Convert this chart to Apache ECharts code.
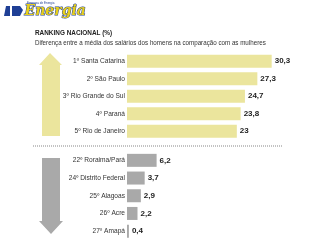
<!DOCTYPE html>
<html><head><meta charset="utf-8">
<script src="https://cdn.jsdelivr.net/npm/echarts@6/dist/echarts.min.js"></script>
<style>html,body{margin:0;padding:0;background:#fff}#c{width:320px;height:240px}</style>
</head><body><div id="c"></div>
<script>
var topCategories = ['1º Santa Catarina','2º São Paulo','3º Rio Grande do Sul','4º Paraná','5º Rio de Janeiro'];
var topValues = [30.3, 27.3, 24.7, 23.8, 23];
var bottomCategories = ['22º Roraima/Pará','24º Distrito Federal','25º Alagoas','26º Acre','27º Amapá'];
var bottomValues = [6.2, 3.7, 2.9, 2.2, 0.4];
var titleText = 'RANKING NACIONAL (%)';
var subtitleText = 'Diferença entre a média dos salários dos homens na comparação com as mulheres';

var NARROW = '"Liberation Sans Narrow","Arial Narrow","Liberation Sans",sans-serif';
var chart = echarts.init(document.getElementById('c'), null, {renderer:'canvas'});
function fmt(p){ return String(p.value).replace('.', ','); }
var catLabel = {color:'#333', fontSize:6.6, fontFamily:NARROW, margin:2};
var valLabel = {show:true, position:'right', distance:3, formatter:fmt, fontSize:8, fontWeight:'bold', color:'#222', fontFamily:NARROW};
chart.setOption({
  animation:false,
  grid:[
    {left:127, width:191, top:52.5, height:87.5},
    {left:127, width:191, top:151.5, height:90}
  ],
  xAxis:[
    {gridIndex:0, type:'value', min:0, max:40, show:false},
    {gridIndex:1, type:'value', min:0, max:40, show:false}
  ],
  yAxis:[
    {gridIndex:0, type:'category', data:topCategories, inverse:true, axisLine:{show:false}, axisTick:{show:false}, axisLabel:catLabel},
    {gridIndex:1, type:'category', data:bottomCategories, inverse:true, axisLine:{show:false}, axisTick:{show:false}, axisLabel:catLabel}
  ],
  series:[
    {type:'bar', xAxisIndex:0, yAxisIndex:0, data:topValues, barWidth:13, itemStyle:{color:'#ebe59d'}, label:valLabel},
    {type:'bar', xAxisIndex:1, yAxisIndex:1, data:bottomValues, barWidth:13, itemStyle:{color:'#a9a9a9'}, label:valLabel}
  ],
  graphic:[
    {type:'polygon', shape:{points:[[6,6],[20,6],[23,10],[20,16],[4,16]]}, style:{fill:'#1f3f95'}},
    {type:'rect', shape:{x:10,y:6,width:2,height:10}, style:{fill:'#fff'}},
    {type:'text', left:27, top:2, style:{text:'Empresa de Energia', fontSize:3, fill:'#1f3f95', fontFamily:'sans-serif'}},
    {type:'text', left:24, top:4, style:{text:'Energia', fontSize:14, fontStyle:'italic', fontWeight:'bold', fontFamily:'"DejaVu Serif",serif', fill:'#e8cf1a', stroke:'#1f3f95', lineWidth:1}},
    {type:'text', x:35, y:29, scaleX:0.8, style:{text:titleText, fontSize:8, fontWeight:'bold', fill:'#222', fontFamily:NARROW, verticalAlign:'top'}},
    {type:'text', x:35, y:39, scaleX:0.83, style:{text:subtitleText, fontSize:7.5, fill:'#333', fontFamily:NARROW, verticalAlign:'top'}},
    {type:'polygon', shape:{points:[[50,53],[62,65],[60,65],[60,136],[42,136],[42,65],[39,65]]}, style:{fill:'#ebe59d'}},
    {type:'polygon', shape:{points:[[42,158],[60,158],[60,221],[63,221],[51,234],[39,221],[42,221]]}, style:{fill:'#a9a9a9'}},
    {type:'line', shape:{x1:33,y1:146,x2:283,y2:146}, style:{stroke:'#888', lineWidth:1, lineDash:[1,1]}}
  ]
});
</script></body></html>
